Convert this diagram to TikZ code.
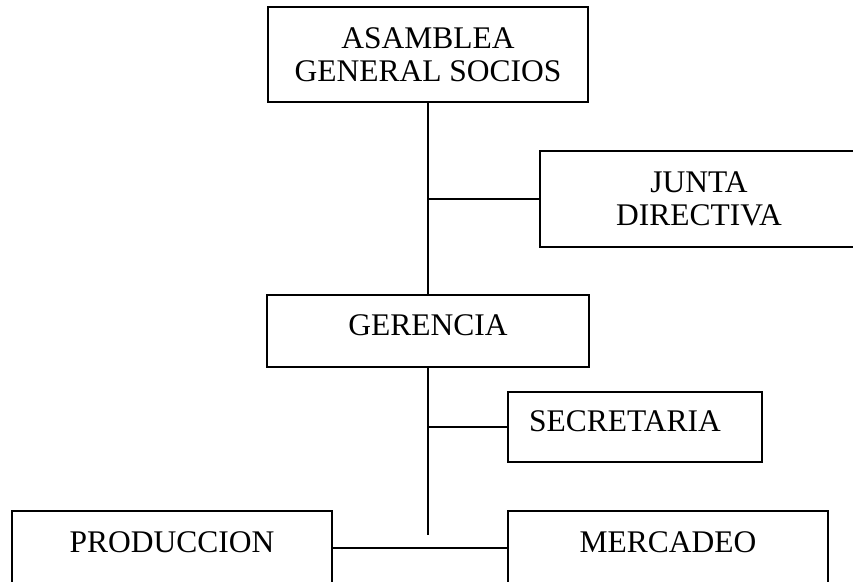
\documentclass[tikz,border=0pt]{standalone}
\usepackage{fontspec}
\setmainfont{Liberation Serif}
\begin{document}
\begin{tikzpicture}[x=1pt,y=1pt,
    caja/.style={draw,line width=1.2pt,minimum width=320pt,align=center,
        font=\fontsize{31.5}{33}\selectfont,inner sep=0pt},
    unalinea/.style={text depth=12pt},
    linea/.style={line width=1.2pt}]
    \useasboundingbox (0,0) rectangle (853,581);
    \node [caja,minimum height=95pt] (asamblea) at (428,526.5) {ASAMBLEA\\GENERAL SOCIOS};
    \node [caja,minimum width=318pt,minimum height=96pt] (junta) at (699,382) {JUNTA\\DIRECTIVA};
    \node [caja,unalinea,minimum width=322pt,minimum height=72pt] (gerencia) at (428,250) {GERENCIA};
    \node [caja,unalinea,minimum width=254pt,minimum height=70pt,text width=212pt,align=left] (secretaria) at (635,154) {SECRETARIA};
    \node [caja,unalinea,minimum height=74pt] (produccion) at (172,33) {PRODUCCION};
    \node [caja,unalinea,minimum height=74pt] (mercadeo) at (668,33) {MERCADEO};
    \coordinate (fin) at (428,46);
    \draw [linea] (asamblea.south) -- (gerencia.north);
    \draw [linea] (asamblea.south |- junta.west) -- (junta.west);
    \draw [linea] (gerencia.south) -- (fin);
    \draw [linea] (gerencia.south |- secretaria.west) -- (secretaria.west);
    \draw [linea] (produccion.east) -- (mercadeo.west);
\end{tikzpicture}
\end{document}
